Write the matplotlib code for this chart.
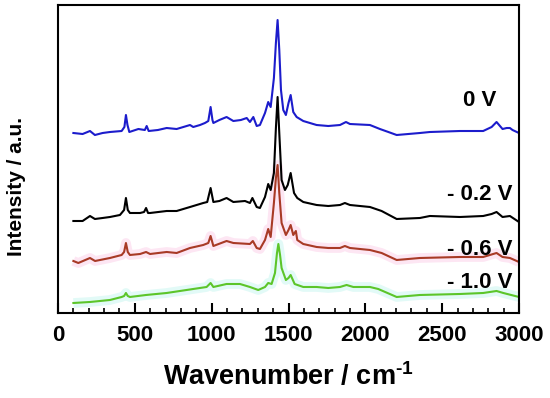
import matplotlib

matplotlib.use("Agg")
import matplotlib.pyplot as plt
from matplotlib.ticker import MultipleLocator

plt.rcParams["font.family"] = "Liberation Sans"
plt.rcParams["font.weight"] = "bold"
plt.rcParams["mathtext.fontset"] = "custom"
plt.rcParams["mathtext.rm"] = "Liberation Sans:bold"
plt.rcParams["mathtext.default"] = "rm"

# Raman spectra (arbitrary intensity units, stacked)
x_0v = [100, 160, 208, 240, 290, 338, 414, 432, 442, 452, 464, 523, 565, 577, 590,
        650, 707, 772, 859, 880, 924, 956, 978, 993, 1005, 1011, 1050, 1097, 1141, 1190,
        1228, 1249, 1271, 1293, 1314, 1347, 1368, 1384, 1405, 1418, 1429, 1440, 1451, 1466,
        1483, 1500, 1514, 1531, 1553, 1596, 1683, 1759, 1835, 1874, 1900, 2030, 2095, 2150,
        2204, 2355, 2420, 2616, 2767, 2822, 2854, 2893, 2920, 2941, 2958, 3000]
y_0v = [180, 179, 182, 178, 180, 181, 182, 186, 198, 188, 181, 184, 183, 187, 182,
        183, 185, 184, 188, 186, 188, 190, 192, 206, 193, 190, 193, 196, 192, 193,
        195, 191, 196, 187, 188, 200, 211, 206, 235, 270, 293, 263, 223, 203,
        198, 210, 218, 201, 196, 192, 188, 187, 188, 191, 189, 188, 184, 181,
        178, 180, 181, 182, 182, 186, 191, 184, 185, 185, 183, 180]

x_02v = [100, 160, 208, 240, 290, 338, 403, 430, 442, 454, 468, 534, 560, 573, 586,
         599, 707, 772, 859, 945, 971, 993, 1011, 1050, 1097, 1141, 1217, 1249, 1265, 1293,
         1314, 1347, 1368, 1384, 1405, 1418, 1429, 1440, 1455, 1477, 1495, 1514, 1536, 1557,
         1596, 1683, 1759, 1835, 1867, 1900, 2030, 2106, 2204, 2355, 2420, 2616, 2767, 2822,
         2854, 2893, 2941, 3000]
y_02v = [92, 92, 97, 94, 95, 96, 98, 103, 115, 103, 100, 100, 101, 105, 100,
         100, 102, 102, 106, 110, 111, 125, 111, 112, 115, 111, 112, 110, 115, 106,
         105, 116, 129, 123, 140, 185, 216, 180, 133, 123, 128, 140, 120, 115,
         111, 108, 107, 108, 110, 108, 106, 102, 94, 95, 97, 96, 97, 99,
         101, 96, 97, 91]

x_06v = [100, 132, 208, 241, 338, 414, 430, 442, 454, 468, 534, 573, 599, 707, 772,
         859, 945, 978, 993, 1011, 1097, 1141, 1249, 1268, 1293, 1314, 1347, 1368, 1384, 1405,
         1418, 1429, 1440, 1455, 1483, 1500, 1514, 1531, 1548, 1557, 1596, 1683, 1759, 1835,
         1867, 1900, 2030, 2106, 2204, 2355, 2616, 2767, 2854, 2893, 2941, 3000]
y_06v = [52, 50, 55, 52, 55, 58, 61, 70, 61, 58, 59, 61, 59, 61, 60,
         65, 68, 70, 77, 67, 72, 70, 69, 72, 65, 64, 73, 84, 76, 110,
         135, 148, 120, 90, 78, 83, 88, 78, 82, 73, 69, 66, 65, 65,
         67, 65, 63, 60, 53, 55, 56, 56, 60, 56, 55, 51]

x_10v = [100, 208, 338, 414, 430, 442, 454, 468, 573, 707, 880, 967, 993, 1011, 1097,
         1184, 1249, 1303, 1347, 1368, 1390, 1412, 1425, 1434, 1445, 1455, 1483, 1500, 1514,
         1540, 1596, 1683, 1759, 1835, 1878, 1922, 2030, 2084, 2204, 2355, 2616, 2767, 2854,
         2898, 3000]
y_10v = [10, 11, 13, 16, 17, 20, 17, 16, 18, 20, 24, 26, 30, 26, 29,
         29, 26, 23, 26, 30, 29, 40, 60, 69, 58, 45, 33, 35, 38,
         29, 26, 26, 25, 26, 28, 26, 26, 24, 16, 18, 19, 20, 22,
         20, 16]

labels = ["0 V", "- 0.2 V", "- 0.6 V", "- 1.0 V"]
label_y = [213, 118, 63, 30]
colors = ["#1c1ccc", "#000000", "#a83a26", "#5cc52a"]

fig = plt.figure(figsize=(5.5, 3.98), dpi=100)
ax = fig.add_axes([0.1055, 0.2136, 0.8381, 0.7738])

# faint halos seen behind the lower two traces
ax.plot(x_06v, y_06v, color="#fde6f3", lw=7, zorder=1, solid_capstyle="butt")
ax.plot(x_10v, y_10v, color="#e2faf7", lw=7, zorder=1, solid_capstyle="butt")

series = [(x_0v, y_0v), (x_02v, y_02v), (x_06v, y_06v), (x_10v, y_10v)]
for (xs, ys), c in zip(series, colors):
    ax.plot(xs, ys, color=c, lw=1.5, zorder=2)

for lab, ly in zip(labels, label_y):
    ax.text(2745, ly, lab, ha="center", va="center", fontsize=16, fontweight="bold")

ax.set_xlim(0, 3000)
ax.set_ylim(0, 308)
ax.xaxis.set_major_locator(MultipleLocator(500))
ax.xaxis.set_minor_locator(MultipleLocator(100))
ax.tick_params(axis="x", which="major", direction="in", length=7, width=1.5,
               labelsize=16, pad=9)
ax.tick_params(axis="x", which="minor", direction="in", length=3.5, width=1.2)
ax.set_yticks([])
for s in ax.spines.values():
    s.set_linewidth(1.5)

ax.set_xlabel(r"Wavenumber / cm$^{\text{-}1}$", fontsize=19.5, fontweight="bold", labelpad=11)
ax.set_ylabel("Intensity / a.u.", fontsize=15, fontweight="bold", va="center")
ax.yaxis.set_label_coords(-0.091, 0.41)

fig.savefig("out.png", dpi=100)
